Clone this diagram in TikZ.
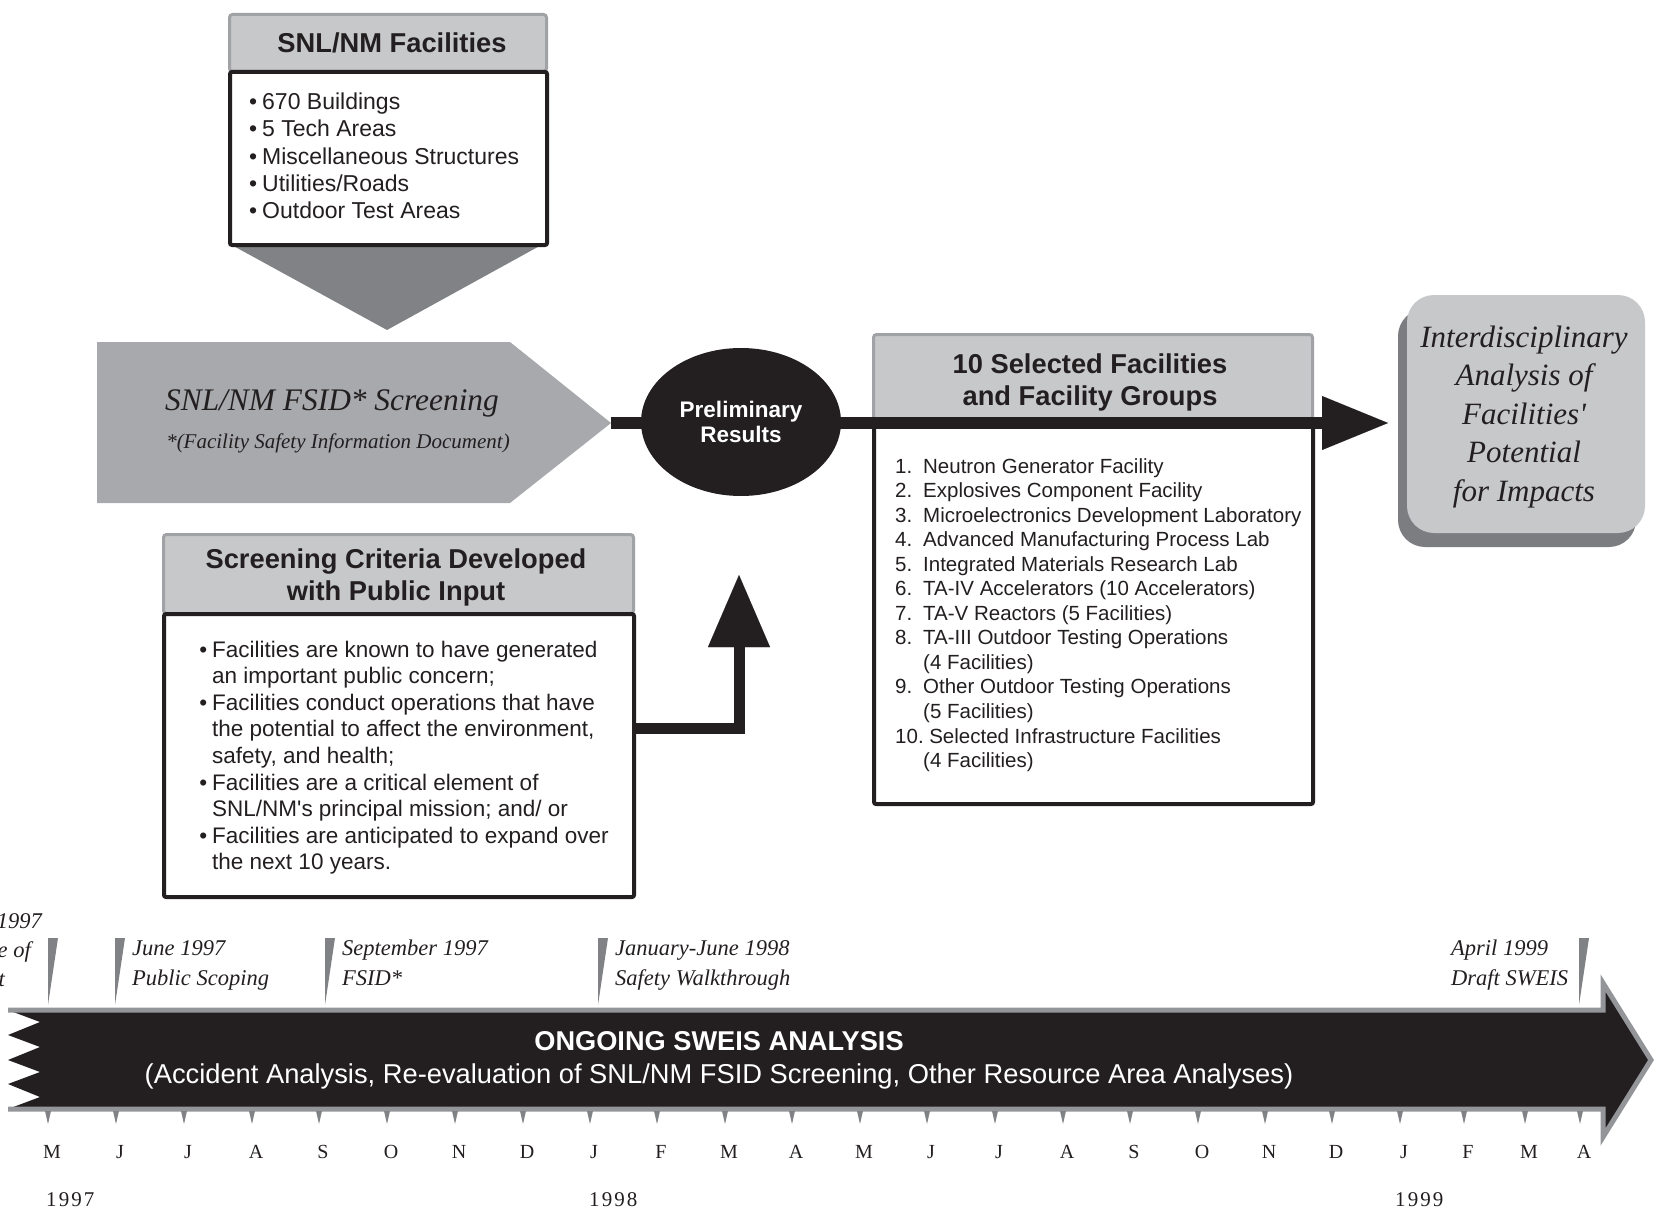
\documentclass[tikz,border=0pt]{standalone}
\usepackage{fontspec}
\setmainfont{Liberation Serif}
\setsansfont{Liberation Sans}
\newfontfamily\yearfont[LetterSpace=10]{Liberation Serif}
\usetikzlibrary{shapes}
\usetikzlibrary{arrows.meta}
\usetikzlibrary{shadows}

\definecolor{ink}{HTML}{231F20}
\definecolor{hdgray}{HTML}{C7C8CA}
\definecolor{hdedge}{HTML}{A0A2A5}
\definecolor{pentgray}{HTML}{A7A9AC}
\definecolor{wedgegray}{HTML}{808285}
\definecolor{shadowgray}{HTML}{7C7D80}
\definecolor{edgegray}{HTML}{939598}

\newcommand\boxhead{\sffamily\bfseries\fontsize{27.3}{32}\selectfont}
\newcommand\boxtext{\sffamily\fontsize{23}{27}\selectfont}
\newcommand\listtext{\sffamily\fontsize{20.5}{24.3}\selectfont}
\newcommand\critfont{\sffamily\fontsize{22.5}{26.6}\selectfont}
\newcommand\prelimfont{\sffamily\bfseries\fontsize{22.5}{25.5}\selectfont}
\newcommand\bandhead{\sffamily\bfseries\fontsize{27.2}{32}\selectfont}
\newcommand\bandtext{\sffamily\fontsize{27.3}{32}\selectfont}
\newcommand\screenfont{\itshape\fontsize{31.4}{36}\selectfont}
\newcommand\notefont{\itshape\fontsize{21}{25}\selectfont}
\newcommand\impactfont{\itshape\fontsize{31}{38.5}\selectfont}
\newcommand\markfont{\itshape\fontsize{22.5}{30}\selectfont}
\newcommand\monthfont{\fontsize{20}{24}\selectfont}
\newcommand\itemno[1]{\makebox[28pt][l]{#1}}
\newcommand\bulmark{\llap{\textbullet\hspace{5pt}}}

\tikzset{
  headbox/.style={draw=hdedge, line width=3pt, fill=hdgray, rounded corners=3pt,
    inner sep=0pt, anchor=north west},
  bodybox/.style={draw=ink, line width=4pt, fill=white, rounded corners=2pt,
    inner sep=0pt, anchor=north west},
  headtext/.style={font=\boxhead, text=ink, align=center, inner sep=0pt},
  linetext/.style={anchor=base west, inner sep=0pt, text=ink},
  flow/.style={draw=ink, line width=12pt},
  impactbox/.style={rounded corners=27pt, fill=hdgray, minimum width=238pt,
    minimum height=238pt, inner sep=0pt,
    drop shadow={shadow xshift=-9pt, shadow yshift=-14pt, opacity=1, fill=shadowgray}},
  marktext/.style={font=\markfont, text=ink, inner sep=0pt},
  tickmark/.style={fill=wedgegray}
}

\begin{document}
\begin{tikzpicture}[x=1pt, y=-1pt]
  \useasboundingbox (0,0) rectangle (1656,1209);

  % facilities
  \fill[wedgegray] (228,243) -- (545,243) -- (387,330) -- cycle;
  \node[headbox, minimum width=317pt, minimum height=57pt] (facHead) at (228,13) {};
  \node[bodybox, minimum width=317pt, minimum height=173pt] (facBody) at (228,70) {};
  \node[headtext] (facTitle) at (392,43) {SNL/NM Facilities};
  \foreach \t [count=\i] in {670 Buildings, 5 Tech Areas, Miscellaneous Structures,
      Utilities/Roads, Outdoor Test Areas}
    \node[linetext, font=\boxtext] (fac-\i) at (262,{109.5+27.3*(\i-1)}) {\bulmark\t};

  % screening
  \fill[pentgray] (97,342) -- (510,342) -- (611,423) -- (510,503) -- (97,503) -- cycle;
  \coordinate (screenTip) at (611,423);
  \node[anchor=base, font=\screenfont, text=ink, inner sep=0pt] (screenTitle) at (332,410)
    {SNL/NM FSID* Screening};
  \node[anchor=base, font=\notefont, text=ink, inner sep=0pt] (screenNote) at (338,448)
    {*(Facility Safety Information Document)};

  % selected facilities
  \node[headbox, minimum width=439pt, minimum height=85pt] (selHead) at (872,333) {};
  \node[bodybox, minimum width=439pt, minimum height=384pt] (selBody) at (872,418) {};
  \node[headtext] (selTitle) at (1090,382) {10 Selected Facilities\\and Facility Groups};
  \foreach \t [count=\i] in {
      \itemno{1.}Neutron Generator Facility,
      \itemno{2.}Explosives Component Facility,
      \itemno{3.}Microelectronics Development Laboratory,
      \itemno{4.}Advanced Manufacturing Process Lab,
      \itemno{5.}Integrated Materials Research Lab,
      \itemno{6.}TA-IV Accelerators (10 Accelerators),
      \itemno{7.}TA-V Reactors (5 Facilities),
      \itemno{8.}TA-III Outdoor Testing Operations,
      \itemno{}(4 Facilities),
      \itemno{9.}Other Outdoor Testing Operations,
      \itemno{}(5 Facilities),
      10.\hspace{-2pt} Selected Infrastructure Facilities,
      \itemno{}(4 Facilities)}
    \node[linetext, font=\listtext] (sel-\i) at (895,{473+24.55*(\i-1)}) {\t};

  % main flow
  \coordinate (mainTip) at (1388,423);
  \draw[flow, -{Triangle[length=66pt, width=54pt, line width=0.01pt]}] (screenTip) -- (mainTip);
  \node[ellipse, fill=ink, minimum width=200pt, minimum height=148pt, inner sep=0pt,
    text=white, font=\prelimfont, align=center] (prelim) at (741,422) {Preliminary\\Results};

  % impacts
  \node[impactbox] (impact) at (1526,414) {};
  \node[font=\impactfont, text=ink, align=center, inner sep=0pt] (impactTxt) at (1524,417)
    {Interdisciplinary\\Analysis of\\Facilities\textquotesingle\\Potential\\for Impacts};

  % screening criteria
  \node[headbox, minimum width=470pt, minimum height=79pt] (critHead) at (162,533) {};
  \node[bodybox, minimum width=470pt, minimum height=283pt] (critBody) at (162,612) {};
  \node[headtext] (critTitle) at (396,577) {Screening Criteria Developed\\with Public Input};
  \foreach \t [count=\i] in {
      {\bulmark Facilities are known to have generated},
      {an important public concern;},
      {\bulmark Facilities conduct operations that have},
      {the potential to affect the environment,},
      {safety, and health;},
      {\bulmark Facilities are a critical element of},
      {SNL/NM\textquotesingle s principal mission; and/ or},
      {\bulmark Facilities are anticipated to expand over},
      {the next 10 years.}}
    \node[linetext, font=\critfont] (crit-\i) at (212,{657+26.6*(\i-1)}) {\t};
  \coordinate (upTip) at (739,575);
  \draw[flow, line width=11pt, -{Triangle[length=72pt, width=62pt, line width=0.01pt]}]
    ([yshift=27.5pt]critBody.east) -| (upTip);

  % timeline band
  \fill[ink] (8,1010) -- (1603,1010) -- (1603,983) -- (1651,1060) -- (1603,1137)
    -- (1603,1109) -- (8,1109) -- (40,1097) -- (8,1084) -- (40,1072) -- (8,1060)
    -- (40,1047) -- (8,1035) -- (40,1022) -- cycle;
  \draw[edgegray, line width=5pt] (8,1010) -- (1603,1010) -- (1603,983) -- (1651,1060)
    -- (1603,1137) -- (1603,1109) -- (8,1109);
  \node[anchor=base, font=\bandhead, text=white, inner sep=0pt] (bandHead) at (719,1050)
    {ONGOING SWEIS ANALYSIS};
  \node[anchor=base, font=\bandtext, text=white, inner sep=0pt] (bandSub) at (719,1083)
    {(Accident Analysis, Re-evaluation of SNL/NM FSID Screening, Other Resource Area Analyses)};

  % milestones
  \foreach \x in {48,115,325,598,1579}
    \fill[tickmark] (\x,938) -- (\x+10,938) -- (\x,1005) -- cycle;
  \node[marktext, anchor=base east] (early-1) at (42,928) {1997};
  \node[marktext, anchor=base east] (early-2) at (31,957) {e of};
  \node[marktext, anchor=base east] (early-3) at (5,986) {t};
  \foreach \x/\a/\b [count=\i] in {132/June 1997/Public Scoping,
      342/September 1997/FSID*, 615/January-June 1998/Safety Walkthrough,
      1451/April 1999/Draft SWEIS} {
    \node[marktext, anchor=base west] (markA-\i) at (\x,955) {\a};
    \node[marktext, anchor=base west] (markB-\i) at (\x,985) {\b};
  }

  % months
  \foreach \x/\m in {48/M,116/J,184/J,252/A,319/S,387/O,455/N,523/D,590/J,657/F,
      725/M,792/A,860/M,927/J,995/J,1063/A,1130/S,1198/O,1265/N,1332/D,1400/J,
      1464/F,1525/M,1580/A} {
    \fill[tickmark] (\x-3,1111) -- (\x+3,1111) -- (\x,1124) -- cycle;
    \node[anchor=base, font=\monthfont, text=ink, inner sep=0pt] (month-\x) at (\x+4,1158) {\m};
  }
  \node[anchor=base west, font=\yearfont\fontsize{21}{24}\selectfont, text=ink, inner sep=0pt]
    (year-97) at (46,1206) {1997};
  \node[anchor=base west, font=\yearfont\fontsize{21}{24}\selectfont, text=ink, inner sep=0pt]
    (year-98) at (589,1206) {1998};
  \node[anchor=base west, font=\yearfont\fontsize{21}{24}\selectfont, text=ink, inner sep=0pt]
    (year-99) at (1395,1206) {1999};
\end{tikzpicture}
\end{document}
